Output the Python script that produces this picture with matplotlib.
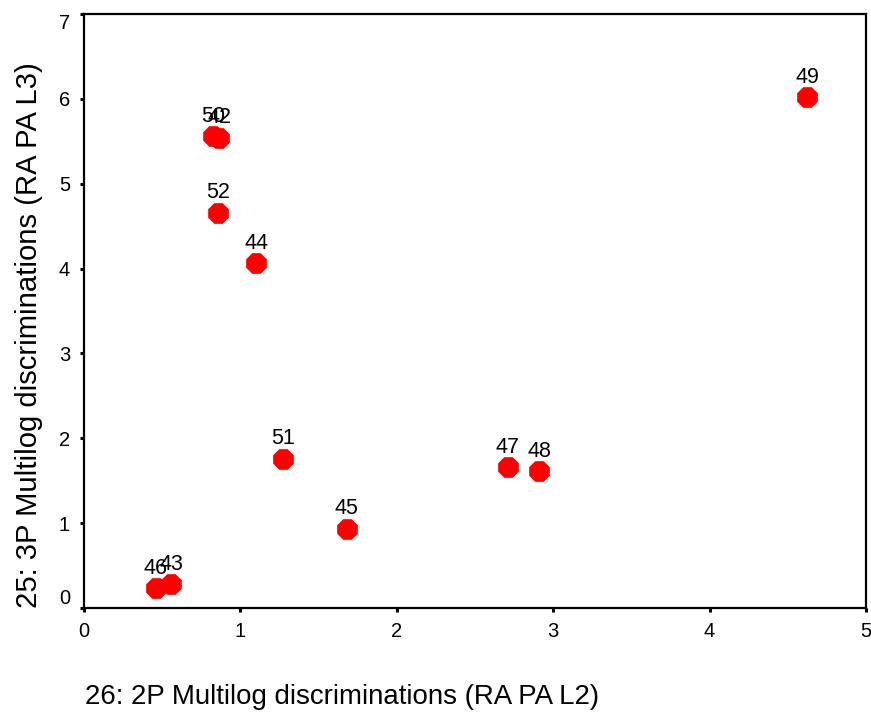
import matplotlib
matplotlib.use("Agg")
import matplotlib.pyplot as plt

# Item discrimination estimates: 2P vs 3P Multilog (RA PA)
items = ["49", "50", "42", "52", "44", "51", "45", "47", "48", "46", "43"]
disc_2p = [4.625, 0.825, 0.864, 0.857, 1.10, 1.274, 1.68, 2.71, 2.91, 0.458, 0.556]
disc_3p = [6.02, 5.56, 5.54, 4.66, 4.06, 1.76, 0.93, 1.66, 1.61, 0.23, 0.28]

x_ticks = [0, 1, 2, 3, 4, 5]
y_ticks = [0, 1, 2, 3, 4, 5, 6, 7]
x_label = "26: 2P Multilog discriminations (RA PA L2)"
y_label = "25: 3P Multilog discriminations (RA PA L3)"

plt.rcParams["font.family"] = ["Liberation Sans", "DejaVu Sans"]

fig = plt.figure(figsize=(8.71, 7.17), dpi=100)
W, H = 871, 717
ax = fig.add_axes([84 / W, 1 - 608 / H, (866 - 84) / W, (608 - 14) / H])

ax.scatter(disc_2p, disc_3p, s=15.5 ** 2, marker="8", color="#ff0000",
           edgecolors="#ff0000", linewidths=0.5, zorder=3)
for lab, xv, yv in zip(items, disc_2p, disc_3p):
    ax.annotate(lab, (xv, yv), xytext=(0, 10.5), textcoords="offset points",
                ha="center", va="baseline", fontsize=15.5, color="black", zorder=4)

ax.set_xlim(0, 5)
ax.set_ylim(0, 7)
ax.set_xticks(x_ticks)
ax.set_yticks(y_ticks)
ax.set_xticklabels([str(t) for t in x_ticks])
ax.set_yticklabels([str(t) for t in y_ticks])
ax.tick_params(direction="out", length=3, width=2.2, pad=7, labelsize=14.5,
               color="black", labelcolor="black")
for sp in ax.spines.values():
    sp.set_linewidth(1.6)
    sp.set_color("black")

# keep edge labels inside the axis span
ylabs = ax.get_yticklabels()
ylabs[0].set_va("bottom")
ylabs[-1].set_va("top")

fig.text(85 / W, 1 - 697 / H, x_label, ha="left", va="center", fontsize=19.9)
fig.text(29 / W, 1 - 608 / H, y_label, ha="center", va="bottom",
         rotation=90, fontsize=21.1)

fig.savefig("out.png", dpi=100, facecolor="white")
